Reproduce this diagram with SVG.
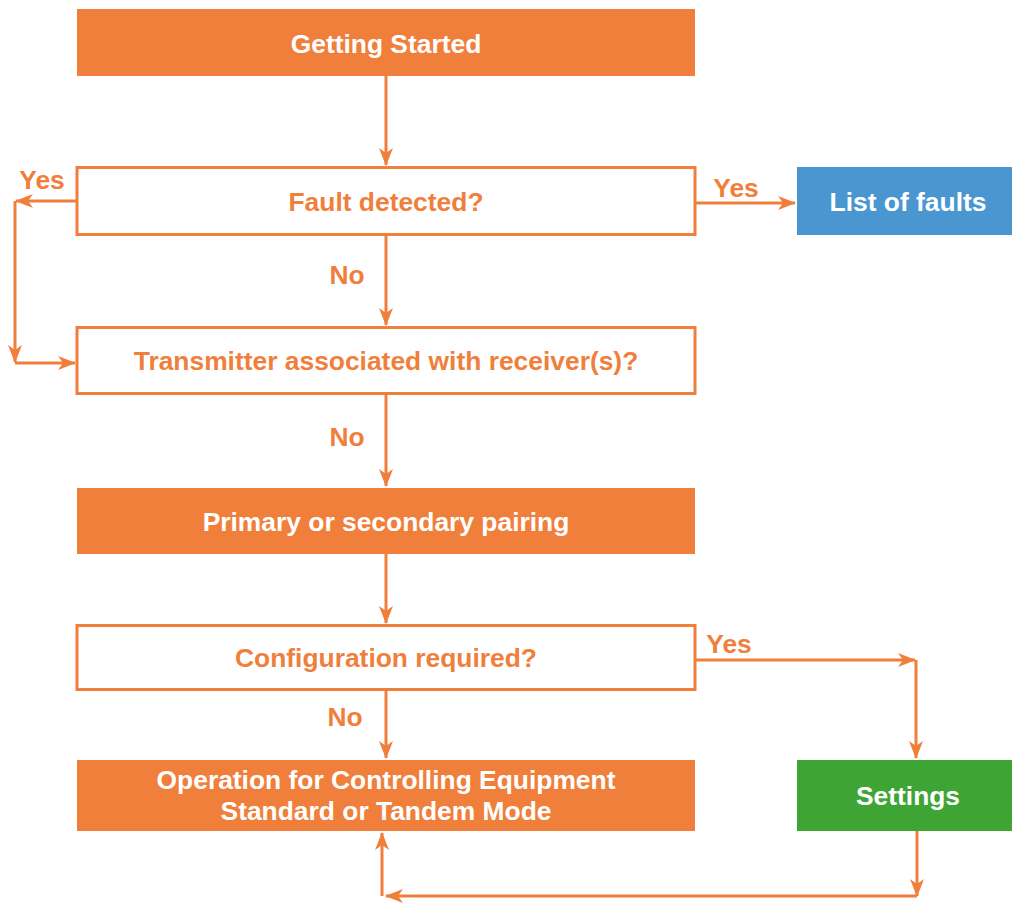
<svg xmlns="http://www.w3.org/2000/svg" width="1012" height="903" viewBox="0 0 1012 903">
<style>
.fill{fill:#F07F3C}
.box{fill:#fff;stroke:#F07F3C;stroke-width:3}
.t{font-family:"Liberation Sans",Arial,sans-serif;font-weight:bold;font-size:26.4px;text-anchor:middle}
.w{fill:#fff}
.o{fill:#F07F3C}
.c{fill:none;stroke:#F07F3C;stroke-width:3}
</style>
<defs>
<marker id="ah" viewBox="0 0 18 14" refX="17" refY="7" markerWidth="18" markerHeight="14" markerUnits="userSpaceOnUse" orient="auto">
<path d="M0,0 L18,7 L0,14 L5,7 Z" fill="#F07F3C"/>
</marker>
</defs>
<rect width="1012" height="903" fill="#fff"/>
<g id="connectors">
<path class="c" d="M386,76 V165" marker-end="url(#ah)"/>
<path class="c" d="M77,201 H16" marker-end="url(#ah)"/>
<path class="c" d="M15,201 V362" marker-end="url(#ah)"/>
<path class="c" d="M15,363 H75" marker-end="url(#ah)"/>
<path class="c" d="M695,203 H795" marker-end="url(#ah)"/>
<path class="c" d="M386,235 V325" marker-end="url(#ah)"/>
<path class="c" d="M386,394 V486" marker-end="url(#ah)"/>
<path class="c" d="M386,554 V623" marker-end="url(#ah)"/>
<path class="c" d="M386,690 V758" marker-end="url(#ah)"/>
<path class="c" d="M695,660 H915" marker-end="url(#ah)"/>
<path class="c" d="M916,660 V758" marker-end="url(#ah)"/>
<path class="c" d="M917,831 V896" marker-end="url(#ah)"/>
<path class="c" d="M917,896 H386" marker-end="url(#ah)"/>
<path class="c" d="M382,896 V833" marker-end="url(#ah)"/>
<text class="t o" x="42" y="189">Yes</text>
<text class="t o" x="736" y="197">Yes</text>
<text class="t o" x="347" y="284">No</text>
<text class="t o" x="347" y="446">No</text>
<text class="t o" x="729" y="653">Yes</text>
<text class="t o" x="345" y="726">No</text>
</g>
<g id="getting-started">
<rect class="fill" x="77" y="9" width="618" height="67"/>
<text class="t w" x="386" y="53">Getting Started</text>
</g>
<g id="fault-detected">
<rect class="box" x="77" y="167.5" width="618" height="67"/>
<text class="t o" x="386" y="211">Fault detected?</text>
</g>
<g id="list-of-faults">
<rect fill="#4A96D1" x="797" y="167" width="215" height="68"/>
<text class="t w" x="908" y="211">List of faults</text>
</g>
<g id="transmitter">
<rect class="box" x="77" y="327.5" width="618" height="66"/>
<text class="t o" x="386" y="370">Transmitter associated with receiver(s)?</text>
</g>
<g id="pairing">
<rect class="fill" x="77" y="488" width="618" height="66"/>
<text class="t w" x="386" y="531">Primary or secondary pairing</text>
</g>
<g id="configuration">
<rect class="box" x="77" y="625.5" width="618" height="64"/>
<text class="t o" x="386" y="667">Configuration required?</text>
</g>
<g id="operation">
<rect class="fill" x="77" y="760" width="618" height="71"/>
<text class="t w" x="386" y="789">Operation for Controlling Equipment</text>
<text class="t w" x="386" y="820">Standard or Tandem Mode</text>
</g>
<g id="settings">
<rect fill="#3EA535" x="797" y="760" width="215" height="71"/>
<text class="t w" x="908" y="805">Settings</text>
</g>
</svg>
